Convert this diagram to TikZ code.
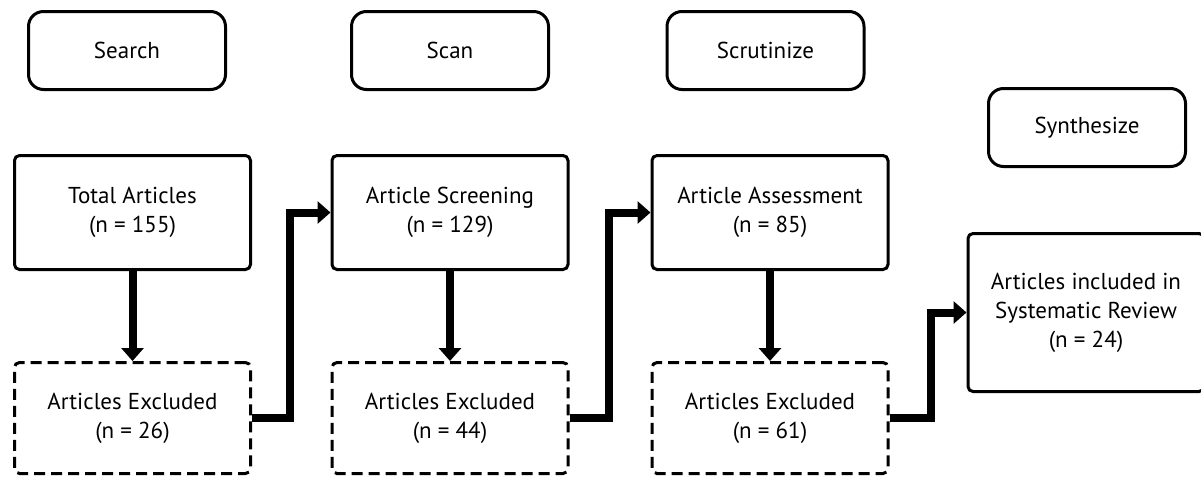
\documentclass[tikz,border=0pt]{standalone}
\usepackage{fontspec}
\setmainfont{PT Sans}
\usetikzlibrary{arrows.meta,positioning}

\begin{document}
\begin{tikzpicture}[x=1pt,y=-1pt,
    stage/.style={draw, line width=3pt, rounded corners=15pt, minimum width=197pt, minimum height=78pt, font=\fontsize{23}{29}\selectfont},
    countbox/.style={draw, line width=3pt, rounded corners=5pt, minimum width=236pt, minimum height=114pt, align=center, font=\fontsize{23}{29}\selectfont},
    dropbox/.style={countbox, dash pattern=on 11pt off 6pt, minimum height=111pt},
    flow/.style={line width=8pt, -{Triangle[width=22pt,length=13pt]}}]
    \useasboundingbox (0,0) rectangle (1201,477);
    \clip (0,0) rectangle (1201,477);

    % Stage headers
    \node[stage] (search) at (127,50.5) {Search};
    \node[stage] (scan) at (450,50.5) {Scan};
    \node[stage] (scrutinize) at (765.5,50.5) {Scrutinize};
    \node[stage] (synthesize) at (1087,127.5) {Synthesize};

    % Article counts
    \node[countbox] (total) at (132.5,212.5) {Total Articles\\(n = 155)};
    \node[countbox] (screening) at (450,212.5) {Article Screening\\(n = 129)};
    \node[countbox] (assessment) at (770,212.5) {Article Assessment\\(n = 85)};
    \node[countbox, minimum height=158pt] (included) at (1086,312.5) {Articles included in\\Systematic Review\\(n = 24)};

    % Excluded articles
    \node[dropbox] (excluded1) at (132.5,418) {Articles Excluded\\(n = 26)};
    \node[dropbox] (excluded2) at (450,418) {Articles Excluded\\(n = 44)};
    \node[dropbox] (excluded3) at (770,418) {Articles Excluded\\(n = 61)};

    % Connectors
    \draw[flow] (total) -- (excluded1);
    \draw[flow] (screening) -- (excluded2);
    \draw[flow] (assessment) -- (excluded3);
    \draw[flow] (excluded1.east) -- ++(38,0) |- (screening.west);
    \draw[flow] (excluded2.east) -- ++(39,0) |- (assessment.west);
    \draw[flow] (excluded3.east) -- ++(41,0) |- (included.west);
\end{tikzpicture}
\end{document}
